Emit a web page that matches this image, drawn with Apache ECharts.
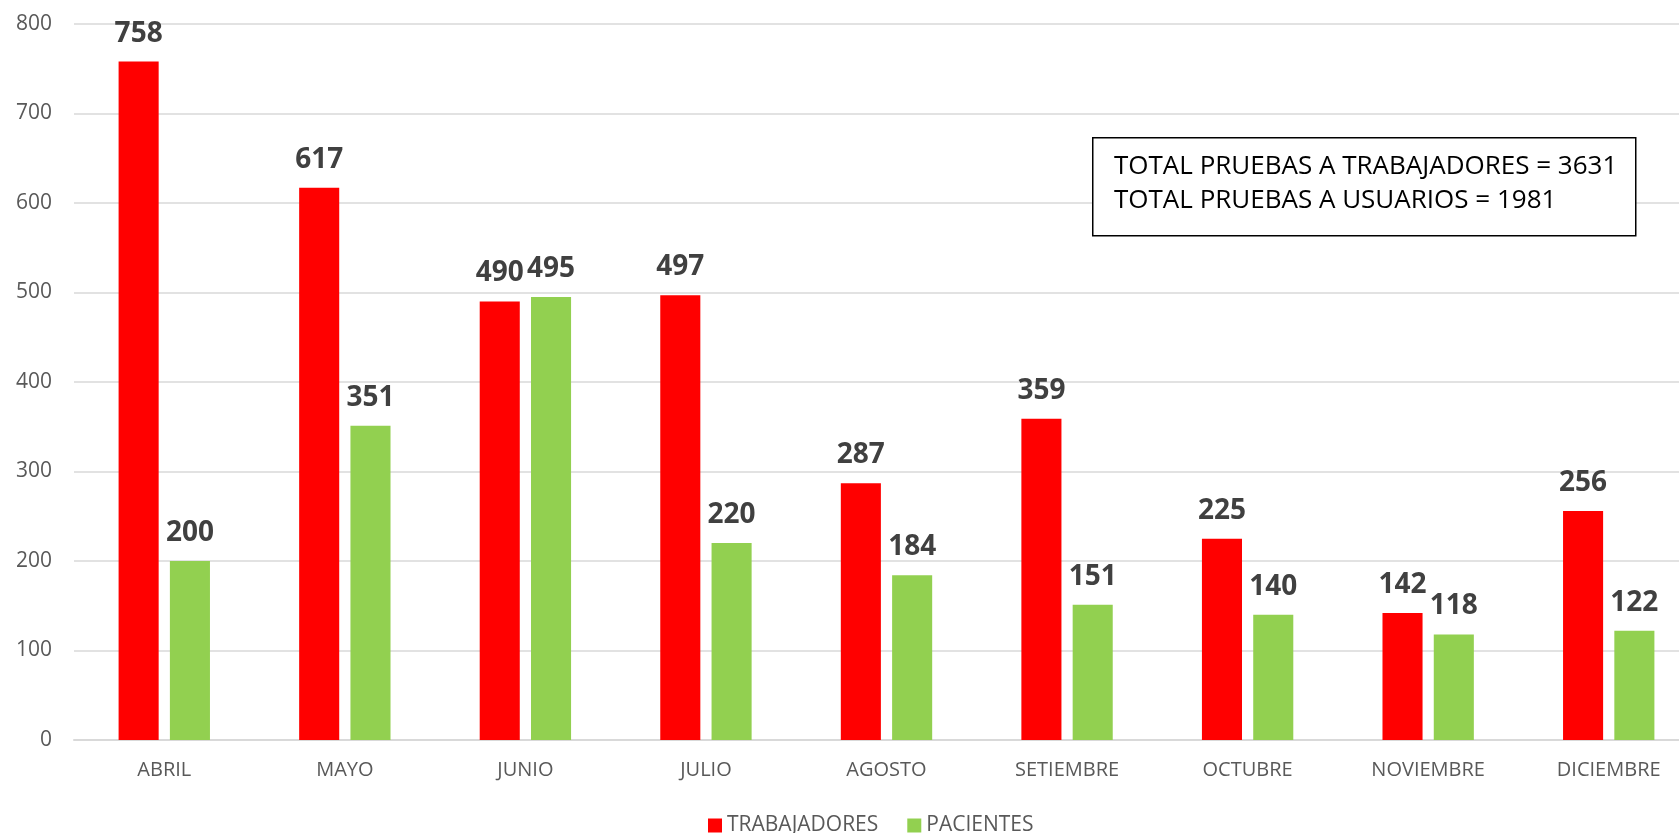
<!DOCTYPE html>
<html>
<head>
  <meta charset="utf-8">
  <title>pruebas</title>
  <script src="https://cdn.jsdelivr.net/npm/echarts@6/dist/echarts.min.js"></script>
  <style>
    html, body { margin: 0; padding: 0; background: #fff; }
  </style>
</head>
<body>
  <div id="main" style="width:1679px;height:833px;"></div>
  <script type="text/javascript">
    // datos del gráfico
    var meses = ['ABRIL', 'MAYO', 'JUNIO', 'JULIO', 'AGOSTO', 'SETIEMBRE', 'OCTUBRE', 'NOVIEMBRE', 'DICIEMBRE'];
    var trabajadores = [758, 617, 490, 497, 287, 359, 225, 142, 256];
    var pacientes = [200, 351, 495, 220, 184, 151, 140, 118, 122];
    var notas = ['TOTAL PRUEBAS A TRABAJADORES = 3631', 'TOTAL PRUEBAS A USUARIOS = 1981'];

    var myChart = echarts.init(document.getElementById('main'));

    var etiqueta = {
      show: true,
      position: 'top',
      distance: 14,
      fontFamily: 'Open Sans',
      fontWeight: 'bold',
      fontSize: 28,
      color: '#404040'
    };

    var option = {
      animation: false,
      textStyle: { fontFamily: 'Open Sans' },
      // el área de trazado sale un poco por la derecha, como en el original
      grid: { left: 74, top: 24, right: -20, bottom: 93, containLabel: false, outerBoundsMode: 'none' },
      legend: {
        left: 703,
        top: 810,
        itemWidth: 14,
        itemHeight: 14,
        itemGap: 29,
        icon: 'rect',
        textStyle: { fontSize: 21, color: '#595959', fontFamily: 'Open Sans' },
        data: ['TRABAJADORES', 'PACIENTES']
      },
      xAxis: {
        type: 'category',
        data: meses,
        axisTick: { show: false },
        axisLine: { lineStyle: { color: '#D9D9D9', width: 2 } },
        axisLabel: { fontSize: 20, color: '#595959', margin: 20 }
      },
      yAxis: {
        type: 'value',
        min: 0,
        max: 800,
        interval: 100,
        axisLine: { show: false },
        axisTick: { show: false },
        splitLine: { lineStyle: { color: '#D9D9D9', width: 1.5 } },
        axisLabel: { fontSize: 21, color: '#595959', margin: 22 }
      },
      series: [
        {
          name: 'TRABAJADORES',
          type: 'bar',
          data: trabajadores,
          itemStyle: { color: '#FF0000' },
          barGap: '28%',
          barCategoryGap: '49.4%',
          label: etiqueta
        },
        {
          name: 'PACIENTES',
          type: 'bar',
          data: pacientes,
          itemStyle: { color: '#92D050' },
          label: etiqueta
        }
      ],
      graphic: [
        {
          type: 'rect',
          z: 100,
          left: 1092,
          top: 137,
          shape: { width: 543, height: 98 },
          style: { fill: '#fff', stroke: '#000', lineWidth: 1.5 }
        },
        {
          type: 'text',
          z: 101,
          left: 1114,
          top: 150,
          style: {
            text: notas.join('\n'),
            font: '26px "Open Sans"',
            lineHeight: 34,
            fill: '#000'
          }
        }
      ]
    };

    myChart.setOption(option);
  </script>
</body>
</html>
